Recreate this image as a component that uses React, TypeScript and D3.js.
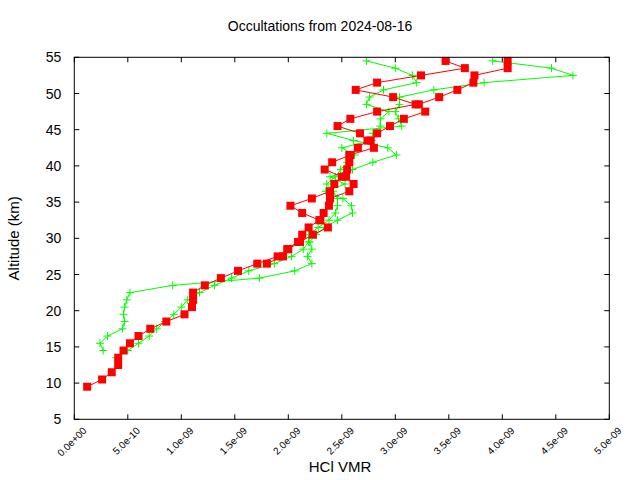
import React from "react";
import * as d3 from "d3";

// Altitude levels (km)
const altsR1 = d3.range(9.5, 55, 1);
const altsR2 = d3.range(26.5, 55, 1);
const altsGa = d3.range(14.5, 55, 1);
const altsGb = d3.range(13.5, 55, 1);

// HCl VMR values in units of 1e-9
const redA = [0.12, 0.26, 0.35, 0.41, 0.41, 0.46, 0.52, 0.60, 0.71, 0.86, 1.03, 1.10, 1.11, 1.11, 1.22, 1.37, 1.53, 1.71, 1.90, 1.99, 2.09, 2.13, 2.19, 2.29, 2.13, 2.02, 2.22, 2.39, 2.43, 2.50, 2.34, 2.41, 2.58, 2.65, 2.74, 2.67, 2.46, 2.58, 2.83, 3.19, 2.98, 2.63, 2.83, 3.24, 3.65, 3.47];
const redB = [1.80, 1.95, 2.00, 2.11, 2.23, 2.37, 2.30, 2.33, 2.38, 2.39, 2.57, 2.61, 2.54, 2.55, 2.57, 2.57, 2.80, 2.77, 2.83, 2.95, 3.08, 3.28, 3.22, 3.41, 3.58, 3.73, 3.74, 4.05, 4.05];
const greenA = [0.27, 0.24, 0.31, 0.45, 0.47, 0.46, 0.47, 0.49, 0.52, 0.92, 1.73, 2.06, 2.22, 2.18, 2.22, 2.20, 2.26, 2.34, 2.46, 2.60, 2.59, 2.51, 2.35, 2.53, 2.39, 2.60, 2.79, 3.01, 2.93, 2.61, 2.36, 3.06, 3.03, 3.00, 3.04, 3.04, 3.36, 3.83, 4.66, 4.46, 3.91];
const greenB = [0.39, 0.50, 0.60, 0.70, 0.77, 0.85, 0.93, 1.00, 1.06, 1.17, 1.31, 1.47, 1.63, 1.87, 2.03, 2.14, 2.19, 2.19, 2.28, 2.38, 2.44, 2.46, 2.46, 2.42, 2.36, 2.44, 2.49, 2.55, 2.62, 2.50, 2.78, 2.79, 2.86, 2.86, 2.94, 2.73, 2.76, 2.89, 3.20, 3.16, 3.00, 2.73];

const xTicks = d3.range(0, 5.0001e-9, 0.5e-9);
const yTicks = d3.range(5, 56, 5);

const W = 640, H = 480;
const L = 74.3, R = 609.3, T = 57.3, B = 419.3;

function fmtExp(v: number) {
  const s = v.toExponential(1); // e.g. 5.0e-10
  const m = s.match(/^(-?[\d.]+)e([+-])(\d+)$/);
  if (!m) return s;
  return `${m[1]}e${m[2]}${m[3].padStart(2, "0")}`;
}

export default function App() {
  const x = d3.scaleLinear().domain([0, 5e-9]).range([L, R]);
  const y = d3.scaleLinear().domain([5, 55]).range([B, T]);
  const line = d3.line<[number, number]>().x(d => x(d[0])).y(d => y(d[1]));
  const mk = (vals: number[], alts: number[]) => vals.map((v, i) => [v * 1e-9, alts[i]] as [number, number]);
  const greens = [mk(greenA, altsGa), mk(greenB, altsGb)];
  const reds = [mk(redA, altsR1), mk(redB, altsR2)];
  const font = "'Liberation Sans', Arial, sans-serif";
  const tk = 5;
  return (
    <svg width={W} height={H} style={{ position: "absolute", left: 0, top: 0, background: "#fff" }} fontFamily={font}>
      <rect x={0} y={0} width={W} height={H} fill="#fff" />
      {/* ticks */}
      {xTicks.map((t, i) => (
        <g key={"xt" + i}>
          <line x1={x(t)} x2={x(t)} y1={B} y2={B - tk} stroke="#000" />
          <line x1={x(t)} x2={x(t)} y1={T} y2={T + tk} stroke="#000" />
          <text transform={`translate(${x(t) + 13},${B + 12}) rotate(-45)`} textAnchor="end" fontSize={10} fill="#000">{fmtExp(t)}</text>
        </g>
      ))}
      {yTicks.map((t, i) => (
        <g key={"yt" + i}>
          <line x1={L} x2={L + tk} y1={y(t)} y2={y(t)} stroke="#000" />
          <line x1={R} x2={R - tk} y1={y(t)} y2={y(t)} stroke="#000" />
          <text x={L - 13} y={y(t)} dy="0.36em" textAnchor="end" fontSize={14} fill="#000">{t}</text>
        </g>
      ))}
      {/* green series */}
      {greens.map((s, k) => (
        <g key={"g" + k}>
          <path d={line(s) || ""} fill="none" stroke="#00ff00" strokeWidth={1} />
          {s.map((d, i) => (
            <path key={i} d={`M${x(d[0]) - 4},${y(d[1])}h8M${x(d[0])},${y(d[1]) - 4}v8`} stroke="#00ff00" strokeWidth={1} />
          ))}
        </g>
      ))}
      {/* red series */}
      {reds.map((s, k) => (
        <g key={"r" + k}>
          <path d={line(s) || ""} fill="none" stroke="#ff0000" strokeWidth={1} />
          {s.map((d, i) => (
            <rect key={i} x={x(d[0]) - 4} y={y(d[1]) - 4} width={8} height={8} fill="#ff0000" />
          ))}
        </g>
      ))}
      <rect x={L} y={T} width={R - L} height={B - T} fill="none" stroke="#000" strokeWidth={1} />
      <text x={320} y={31} textAnchor="middle" fontSize={14} fill="#000">Occultations from 2024-08-16</text>
      <text x={340} y={472} textAnchor="middle" fontSize={15} fill="#000">HCl VMR</text>
      <text transform={`translate(19,${(T + B) / 2}) rotate(-90)`} textAnchor="middle" fontSize={15} fill="#000">Altitude (km)</text>
    </svg>
  );
}
